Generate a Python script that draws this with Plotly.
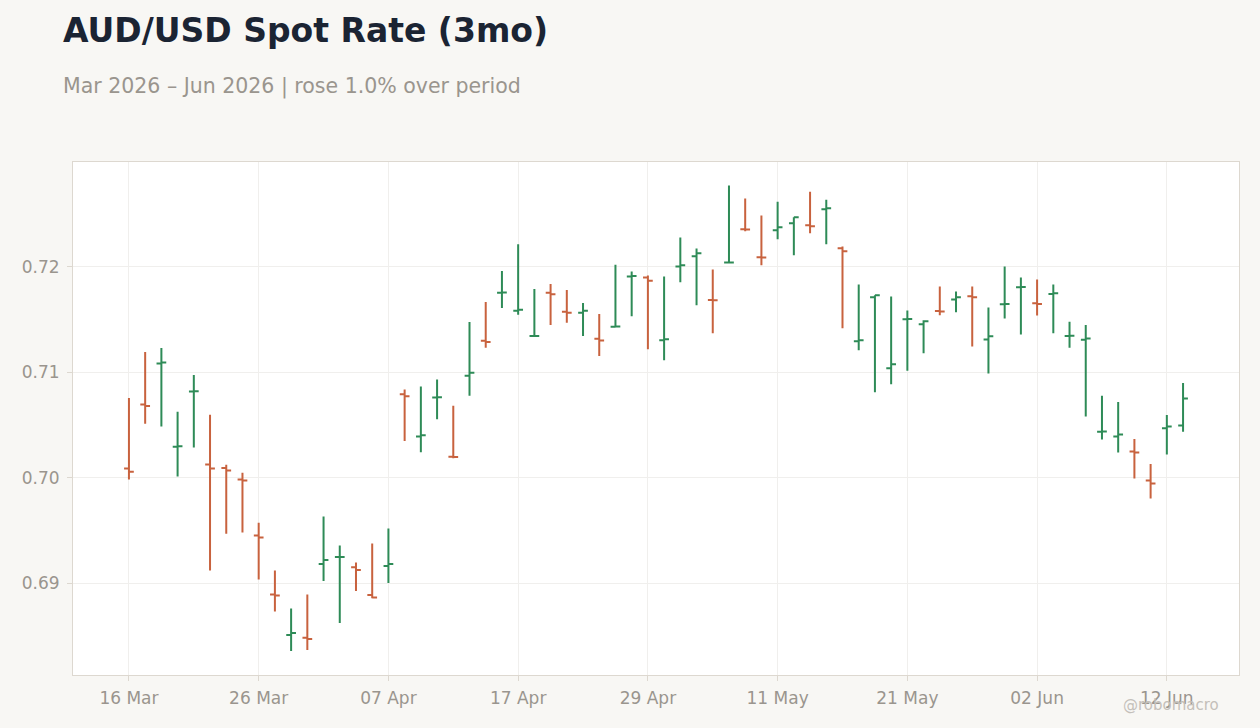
import pandas as pd
import plotly.graph_objs as go

# AUD/USD daily bars, business days 16 Mar - 15 Jun 2026
dates = pd.bdate_range('2026-03-16', '2026-06-15')

open_ = [
    0.70088, 0.70695, 0.71084, 0.70295, 0.70818, 0.70126, 0.70092, 0.69984, 0.69453, 0.68894,
    0.68509, 0.68483, 0.69182, 0.69248, 0.69153, 0.68888, 0.69163, 0.70793, 0.70392, 0.70761,
    0.70200, 0.70968, 0.71300, 0.71755, 0.71585, 0.71344, 0.71755, 0.71575, 0.71566, 0.71319,
    0.71433, 0.71910, 0.71899, 0.71305, 0.72003, 0.72101, 0.71686, 0.72041, 0.72357, 0.72092,
    0.72348, 0.72414, 0.72395, 0.72547, 0.72177, 0.71295, 0.71712, 0.71039, 0.71504, 0.71457,
    0.71582, 0.71690, 0.71722, 0.71311, 0.71646, 0.71807, 0.71656, 0.71744, 0.71346, 0.71310,
    0.70438, 0.70391, 0.70249, 0.69975, 0.70470, 0.70495,
]
high = [
    0.70758, 0.71194, 0.71232, 0.70626, 0.70976, 0.70597, 0.70123, 0.70047, 0.69573, 0.69122,
    0.68761, 0.68894, 0.69633, 0.69359, 0.69197, 0.69378, 0.69520, 0.70837, 0.70866, 0.70932,
    0.70684, 0.71477, 0.71667, 0.71961, 0.72216, 0.71790, 0.71837, 0.71780, 0.71657, 0.71553,
    0.72020, 0.71956, 0.71918, 0.71908, 0.72278, 0.72174, 0.71975, 0.72771, 0.72648, 0.72487,
    0.72619, 0.72471, 0.72714, 0.72638, 0.72193, 0.71833, 0.71731, 0.71719, 0.71586, 0.71494,
    0.71814, 0.71766, 0.71814, 0.71615, 0.72003, 0.71899, 0.71880, 0.71833, 0.71480, 0.71450,
    0.70778, 0.70719, 0.70369, 0.70132, 0.70596, 0.70899,
]
low = [
    0.69984, 0.70512, 0.70487, 0.70013, 0.70288, 0.69122, 0.69469, 0.69482, 0.69036, 0.68733,
    0.68357, 0.68367, 0.69021, 0.68622, 0.68926, 0.68859, 0.69002, 0.70348, 0.70243, 0.70556,
    0.70185, 0.70779, 0.71234, 0.71610, 0.71547, 0.71338, 0.71449, 0.71471, 0.71344, 0.71155,
    0.71432, 0.71532, 0.71220, 0.71115, 0.71855, 0.71637, 0.71371, 0.72040, 0.72338, 0.72016,
    0.72262, 0.72111, 0.72319, 0.72215, 0.71419, 0.71210, 0.70812, 0.70888, 0.71016, 0.71182,
    0.71542, 0.71570, 0.71245, 0.70989, 0.71510, 0.71359, 0.71539, 0.71371, 0.71234, 0.70582,
    0.70363, 0.70240, 0.69994, 0.69804, 0.70221, 0.70438,
]
close = [
    0.70057, 0.70682, 0.71093, 0.70300, 0.70822, 0.70088, 0.70070, 0.69975, 0.69434, 0.68885,
    0.68528, 0.68471, 0.69220, 0.69250, 0.69125, 0.68866, 0.69182, 0.70774, 0.70404, 0.70763,
    0.70197, 0.70997, 0.71288, 0.71757, 0.71594, 0.71346, 0.71742, 0.71566, 0.71585, 0.71303,
    0.71435, 0.71915, 0.71870, 0.71314, 0.72016, 0.72130, 0.71683, 0.72043, 0.72355, 0.72090,
    0.72376, 0.72471, 0.72385, 0.72556, 0.72148, 0.71305, 0.71731, 0.71077, 0.71506, 0.71485,
    0.71577, 0.71712, 0.71712, 0.71343, 0.71648, 0.71809, 0.71649, 0.71750, 0.71348, 0.71322,
    0.70440, 0.70410, 0.70240, 0.69946, 0.70486, 0.70751,
]

tick_dates = dates[::8]
tick_text = [d.strftime('%d %b') for d in tick_dates]

fig = go.Figure()
fig.add_trace(
    go.Ohlc(
        x=dates,
        open=open_,
        high=high,
        low=low,
        close=close,
        increasing=dict(line=dict(color='#2e8b57', width=2)),
        decreasing=dict(line=dict(color='#c8623e', width=2)),
        showlegend=False,
    )
)

axis_common = dict(
    showline=True,
    linecolor='#ddd8d0',
    linewidth=1,
    mirror=True,
    ticks='outside',
    ticklen=5,
    tickcolor='#ddd8d0',
    gridcolor='#f0efed',
    tickfont=dict(family='DejaVu Sans', size=17, color='#9a958e'),
    zeroline=False,
)

fig.update_layout(
    width=1260,
    height=728,
    paper_bgcolor='#f8f7f4',
    plot_bgcolor='#ffffff',
    margin=dict(l=73, r=21, t=162, b=53),
    font=dict(family='DejaVu Sans'),
    xaxis=dict(
        axis_common,
        rangeslider=dict(visible=False),
        rangebreaks=[dict(bounds=['sat', 'mon'])],
        tickvals=tick_dates,
        ticktext=tick_text,
        range=['2026-03-10 13:12', '2026-06-18 10:48'],
        ticklabelstandoff=3,
    ),
    yaxis=dict(
        axis_common,
        tickformat='.2f',
        range=[0.6813, 0.72995],
        dtick=0.01,
        ticklabelstandoff=4,
    ),
    annotations=[
        dict(
            text='<b>AUD/USD Spot Rate (3mo)</b>',
            xref='paper', yref='paper', x=-0.0103, y=1.257,
            xanchor='left', yanchor='middle', showarrow=False,
            font=dict(size=33, color='#1b2433'),
        ),
        dict(
            text='Mar 2026 \u2013 Jun 2026 | rose 1.0% over period',
            xref='paper', yref='paper', x=-0.0103, y=1.148,
            xanchor='left', yanchor='middle', showarrow=False,
            font=dict(size=20.5, color='#9a958e'),
        ),
        dict(
            text='@robomacro',
            xref='paper', yref='paper', x=0.9846, y=-0.0585,
            xanchor='right', yanchor='middle', showarrow=False,
            font=dict(size=15, color='#c4c0ba'),
        ),
    ],
)

# drop the default page margin so the figure sits flush in the window
fig.write_html(
    'out.html',
    config={'displayModeBar': False},
    post_script="document.body.style.margin='0';",
)
